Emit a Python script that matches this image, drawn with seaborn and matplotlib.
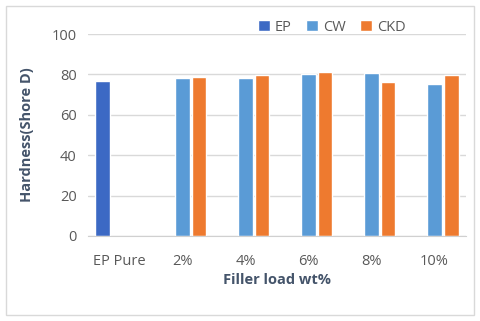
import pandas as pd
import seaborn as sns
from matplotlib import pyplot as plt
from matplotlib.patches import Rectangle

categories = ['EP Pure', '2%', '4%', '6%', '8%', '10%']
series = ['EP', 'CW', 'CKD']
ep_vals = [76.8, None, None, None, None, None]
cw_vals = [None, 78.2, 78.2, 80.0, 80.9, 75.1]
ckd_vals = [None, 78.6, 79.5, 81.3, 76.4, 79.6]

rows = []
for name, vals in zip(series, [ep_vals, cw_vals, ckd_vals]):
    for cat, v in zip(categories, vals):
        rows.append({'Filler': cat, 'Series': name, 'Hardness': v})
df = pd.DataFrame(rows)

sns.set_style('white')
plt.rcParams['font.family'] = ['Open Sans', 'DejaVu Sans']

fig = plt.figure(figsize=(4.8, 3.21), dpi=100)
ax = fig.add_axes([0.183, 0.265, 0.788, 0.629])

palette = {'EP': '#3C69C4', 'CW': '#5A9BD6', 'CKD': '#EE7A2F'}
sns.barplot(data=df, x='Filler', y='Hardness', hue='Series', order=categories,
            hue_order=series, palette=palette, width=0.8, gap=0.15,
            saturation=1, ax=ax, legend=True)

ax.set_ylim(0, 100)
ax.set_xlim(-0.5, 5.5)
ax.set_yticks([0, 20, 40, 60, 80, 100])
ax.yaxis.grid(True, color='#D9D9D9', linewidth=1)
ax.set_axisbelow(True)
for s in ['top', 'right', 'left']:
    ax.spines[s].set_visible(False)
ax.spines['bottom'].set_color('#D0D0D0')
ax.tick_params(axis='both', length=0, labelsize=10.5, labelcolor='#595959')
ax.tick_params(axis='x', pad=13)
ax.tick_params(axis='y', pad=8)
ax.set_xlabel('Filler load wt%', fontsize=10.5, fontweight='bold', color='#44546A', labelpad=3)
ax.set_ylabel('Hardness(Shore D)', fontsize=10.5, fontweight='bold', color='#44546A', labelpad=13)

ax.legend(loc='upper right', bbox_to_anchor=(0.875, 1.135), ncol=3, frameon=False,
          fontsize=10.5, handlelength=0.8, handleheight=0.8, handletextpad=0.35,
          columnspacing=1.0, labelcolor='#595959')

fig.patches.append(Rectangle((0.013, 0.02), 0.975, 0.96, transform=fig.transFigure,
                             fill=False, edgecolor='#D9D9D9', linewidth=1))

plt.savefig('out.png', dpi=100)
